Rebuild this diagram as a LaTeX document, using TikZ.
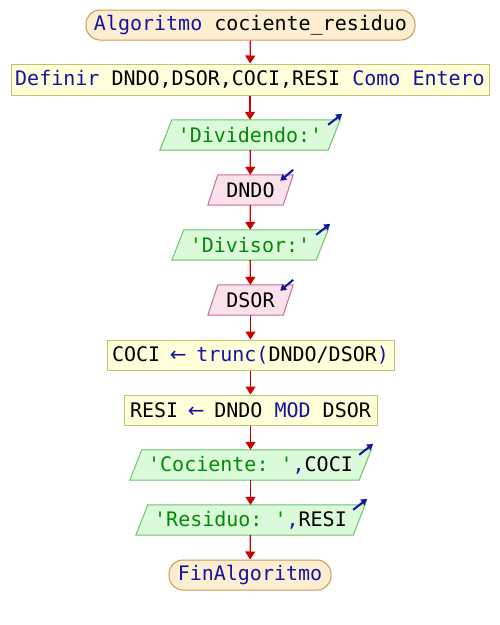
\documentclass[tikz,border=0pt]{standalone}
\usepackage{fontspec}
\setmonofont{DejaVu Sans Mono}
\newfontfamily\arrfont{DejaVu Sans}
\usetikzlibrary{arrows.meta}
\definecolor{kw}{RGB}{20,20,160}
\definecolor{strc}{RGB}{0,140,0}
\definecolor{termf}{RGB}{253,238,210}
\definecolor{termb}{RGB}{205,155,80}
\definecolor{procf}{RGB}{255,255,218}
\definecolor{procb}{RGB}{195,195,110}
\definecolor{outf}{RGB}{218,250,218}
\definecolor{outb}{RGB}{110,195,110}
\definecolor{inf}{RGB}{250,225,236}
\definecolor{inb}{RGB}{195,110,150}
\definecolor{flowc}{RGB}{205,0,0}
\definecolor{iconc}{RGB}{20,20,160}
\pgfdeclarelayer{bg}
\pgfsetlayers{bg,main}
\newcommand\paral[4]{%
  \begin{pgfonlayer}{bg}
  \draw[fill=#3,draw=#4,line width=1pt] ([xshift=#2pt]#1.north west) -- (#1.north east) -- ([xshift=-#2pt]#1.south east) -- (#1.south west) -- cycle;
  \end{pgfonlayer}}
\newcommand\outicon[1]{\draw[iconc,line width=2pt,-{Triangle[length=6pt,width=7pt]}] ([xshift=-12pt,yshift=-5pt]#1.north east) -- ([xshift=2pt,yshift=6pt]#1.north east);}
\newcommand\inicon[1]{\draw[iconc,line width=2pt,-{Triangle[length=6pt,width=7pt]}] ([yshift=5pt]#1.north east) -- ([xshift=-13pt,yshift=-6pt]#1.north east);}
\newcommand\asg{\makebox[12pt]{\arrfont ←}}
\begin{document}
\begin{tikzpicture}[x=1pt,y=-1pt,
  font=\ttfamily\fontsize{20}{24}\selectfont,
  term/.style={draw=termb,fill=termf,line width=1pt,rounded corners=14pt,minimum height=30pt,inner sep=0pt},
  proc/.style={draw=procb,fill=procf,line width=1pt,minimum height=31pt,inner sep=0pt},
  io/.style={minimum height=30pt,inner sep=0pt},
  flow/.style={draw=flowc,line width=1.3pt,-{Triangle[width=10pt,length=8pt]}}]
\begin{pgfonlayer}{bg}
\fill[white] (0,0) rectangle (500,625);
\end{pgfonlayer}
\useasboundingbox (0,0) rectangle (500,625);
\node[term,minimum width=329pt] (start) at (250.5,25) {\textcolor{kw}{Algoritmo} cociente\_residuo};
\node[proc,minimum width=478pt] (def) at (250,79.5) {\textcolor{kw}{Definir} DNDO,DSOR,COCI,RESI \textcolor{kw}{Como Entero}};
\node[io,minimum width=180pt] (o1) at (250,135) {\textcolor{strc}{'Dividendo:'}};
\node[io,minimum width=85pt] (i1) at (250.5,190) {DNDO};
\node[io,minimum width=156pt] (o2) at (250,245) {\textcolor{strc}{'Divisor:'}};
\node[io,minimum width=85pt] (i2) at (250.5,300) {DSOR};
\node[proc,minimum width=287pt,minimum height=30pt] (coci) at (250.5,355) {COCI \textcolor{kw}{\asg{} trunc(}DNDO/DSOR\textcolor{kw}{)}};
\node[proc,minimum width=253pt,minimum height=30pt] (resi) at (250.5,410) {RESI \textcolor{kw}{\asg} DNDO \textcolor{kw}{MOD} DSOR};
\node[io,minimum width=241pt] (o3) at (250.5,465) {\textcolor{strc}{'Cociente: '}\textcolor{kw}{,}COCI};
\node[io,minimum width=229pt] (o4) at (250.5,520) {\textcolor{strc}{'Residuo: '}\textcolor{kw}{,}RESI};
\node[term,minimum width=162pt] (fin) at (250,575) {\textcolor{kw}{FinAlgoritmo}};
\paral{o1}{12}{outf}{outb}
\paral{i1}{10}{inf}{inb}
\paral{o2}{12}{outf}{outb}
\paral{i2}{10}{inf}{inb}
\paral{o3}{12}{outf}{outb}
\paral{o4}{12}{outf}{outb}
\outicon{o1}
\inicon{i1}
\outicon{o2}
\inicon{i2}
\outicon{o3}
\outicon{o4}
\draw[flow] (start) -- (def);
\draw[flow] (def) -- (o1);
\draw[flow] (o1) -- (i1);
\draw[flow] (i1) -- (o2);
\draw[flow] (o2) -- (i2);
\draw[flow] (i2) -- (coci);
\draw[flow] (coci) -- (resi);
\draw[flow] (resi) -- (o3);
\draw[flow] (o3) -- (o4);
\draw[flow] (o4) -- (fin);
\end{tikzpicture}
\end{document}
